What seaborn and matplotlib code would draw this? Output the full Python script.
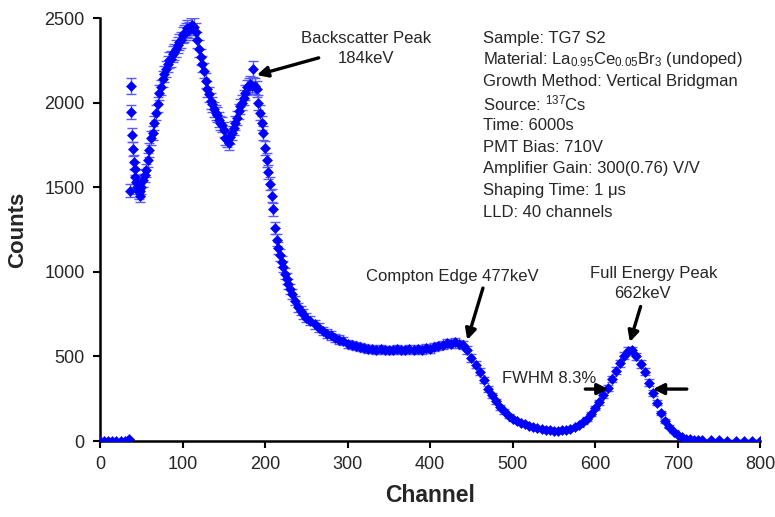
import numpy as np
import pandas as pd
import matplotlib
matplotlib.use("Agg")
import matplotlib.pyplot as plt
import seaborn as sns

# ---- data ----
channels = [0, 5, 10, 15, 20, 25, 30, 33, 35,
            36, 37, 38, 39, 40, 41, 42, 43, 44, 45, 46, 47, 48, 49, 50,
            52, 54, 56, 58, 60, 62, 64, 66, 68, 70, 72, 74, 76, 78, 80,
            82, 84, 86, 88, 90, 92, 94, 96, 98, 100, 102, 104, 106, 108,
            110, 112, 114, 116, 118, 120, 122, 124, 126, 128, 130, 132,
            134, 136, 138, 140, 142, 144, 146, 148, 150, 152, 154, 156,
            158, 160, 162, 164, 166, 168, 170, 172, 174, 176, 178, 180,
            182, 184, 186, 188, 190, 192, 194, 196, 198, 200, 202, 204,
            206, 208, 210, 212, 214, 216, 218, 220, 222, 224, 226, 228,
            230, 233, 236, 240, 243, 246, 250, 255, 260, 265, 270, 275,
            280, 285, 290, 295, 300, 305, 310, 315, 320, 325, 330, 335,
            340, 345, 350, 355, 360, 365, 370, 375, 380, 385, 390, 395,
            400, 405, 410, 415, 420, 425, 430, 435, 440, 445, 450, 455,
            460, 465, 470, 475, 480, 485, 490, 495, 500, 505, 510, 515,
            520, 525, 530, 535, 540, 545, 550, 555, 560, 565, 570, 575,
            580, 585, 590, 595, 600, 605, 610, 615, 620, 625, 630, 635,
            640, 645, 650, 655, 660, 665, 670, 675, 680, 685, 690, 695,
            700, 705, 710, 715, 720, 725, 730, 740, 750, 760, 770, 780,
            790, 800]
counts = [0, 0, 0, 0, 0, 0, 0, 0, 10,
          1480, 2100, 1945, 1810, 1725, 1650, 1610, 1560, 1530, 1500, 1520, 1470, 1450, 1480, 1500,
          1540, 1570, 1600, 1660, 1720, 1790, 1820, 1880, 1940, 1990, 2060, 2090, 2140, 2170, 2200,
          2230, 2250, 2260, 2290, 2300, 2320, 2340, 2360, 2370, 2400, 2410, 2420, 2440, 2430,
          2450, 2460, 2450, 2420, 2370, 2320, 2270, 2230, 2190, 2130, 2080, 2050,
          2010, 1990, 1960, 1940, 1930, 1900, 1880, 1870, 1840, 1790, 1780, 1760,
          1800, 1820, 1850, 1880, 1910, 1950, 1980, 2000, 2030, 2060, 2090, 2100,
          2110, 2100, 2200, 2100, 2080, 2000, 1940, 1880, 1820, 1730, 1660, 1590,
          1520, 1450, 1370, 1260, 1190, 1140, 1100, 1060, 1030, 990, 960, 930,
          900, 870, 830, 790, 770, 750, 730, 710, 690, 670, 650, 635,
          625, 610, 600, 590, 575, 565, 560, 555, 550, 545, 545, 540,
          545, 535, 540, 535, 545, 535, 540, 545, 535, 545, 540, 550,
          545, 555, 560, 570, 580, 575, 585, 575, 565, 540, 490, 450,
          410, 360, 310, 270, 235, 200, 175, 150, 130, 118, 108, 100,
          90, 82, 76, 70, 66, 64, 62, 62, 63, 66, 72, 80,
          95, 110, 130, 160, 195, 230, 270, 315, 365, 415, 460, 505,
          530, 535, 500, 455, 410, 345, 285, 225, 165, 120, 85, 55,
          35, 22, 14, 9, 6, 5, 4, 3, 3, 2, 2, 2,
          2, 2]

x_ticks = [0, 100, 200, 300, 400, 500, 600, 700, 800]
y_ticks = [0, 500, 1000, 1500, 2000, 2500]

info_lines = [
    "Sample: TG7 S2",
    "Material: La$_{0.95}$Ce$_{0.05}$Br$_{3}$ (undoped)",
    "Growth Method: Vertical Bridgman",
    "Source: $^{137}$Cs",
    "Time: 6000s",
    "PMT Bias: 710V",
    "Amplifier Gain: 300(0.76) V/V",
    "Shaping Time: 1 \u03bcs",
    "LLD: 40 channels",
]

df = pd.DataFrame({"Channel": channels, "Counts": counts})
df["err"] = np.sqrt(df["Counts"])

sns.set_style("white")
plt.rcParams["font.family"] = ["Liberation Sans", "DejaVu Sans"]
plt.rcParams["mathtext.fontset"] = "custom"
plt.rcParams["mathtext.rm"] = "Liberation Sans"
plt.rcParams["mathtext.it"] = "Liberation Sans"
plt.rcParams["mathtext.default"] = "regular"

fig = plt.figure(figsize=(7.75, 5.17), dpi=100)
ax = fig.add_axes([0.129, 0.147, 0.852, 0.818])

ax.errorbar(df["Channel"], df["Counts"], yerr=df["err"], fmt="none",
            ecolor="#5a5aff", elinewidth=1.0, capsize=3.5, capthick=1.0, zorder=2)
sns.scatterplot(data=df, x="Channel", y="Counts", marker="D", s=26,
                color="#0000ff", edgecolor="#0000ff", linewidth=0.4, ax=ax, zorder=3)

ax.set_xlim(0, 800)
ax.set_ylim(0, 2500)
ax.set_xticks(x_ticks)
ax.set_yticks(y_ticks)
ax.tick_params(axis="both", labelsize=13, direction="out", length=5, width=1.5,
               color="black", bottom=True, left=True, pad=6)
for s in ["top", "right"]:
    ax.spines[s].set_visible(False)
for s in ["left", "bottom"]:
    ax.spines[s].set_linewidth(1.8)
    ax.spines[s].set_color("black")
ax.set_xlabel("Channel", fontsize=16.5, fontweight="bold", labelpad=8)
ax.set_ylabel("Counts", fontsize=16, fontweight="bold", labelpad=12)

# info block
y0 = 2382
for i, line in enumerate(info_lines):
    ax.text(464, y0 - i * 129, line, fontsize=12, va="center", ha="left")

arrow = dict(arrowstyle="-|>", color="black", lw=2.4, mutation_scale=16,
             shrinkA=0, shrinkB=0)
ax.text(322, 2382, "Backscatter Peak", fontsize=12, ha="center", va="center")
ax.text(322, 2260, "184keV", fontsize=12, ha="center", va="center")
ax.annotate("", xy=(190, 2163), xytext=(265, 2265), arrowprops=arrow)
ax.annotate("", xy=(445, 597), xytext=(464, 904), arrowprops=arrow)
ax.text(427, 975, "Compton Edge 477keV", fontsize=12, ha="center", va="center")
ax.text(671, 990, "Full Energy Peak", fontsize=12, ha="center", va="center")
ax.text(657, 870, "662keV", fontsize=12, ha="center", va="center")
ax.annotate("", xy=(642, 585), xytext=(655, 795), arrowprops=arrow)
ax.text(544, 372, "FWHM 8.3%", fontsize=12, ha="center", va="center")
ax.annotate("", xy=(616, 307), xytext=(588, 307), arrowprops=arrow)
ax.annotate("", xy=(670, 307), xytext=(711, 307), arrowprops=arrow)

fig.savefig("out.png", dpi=100, facecolor="white")
